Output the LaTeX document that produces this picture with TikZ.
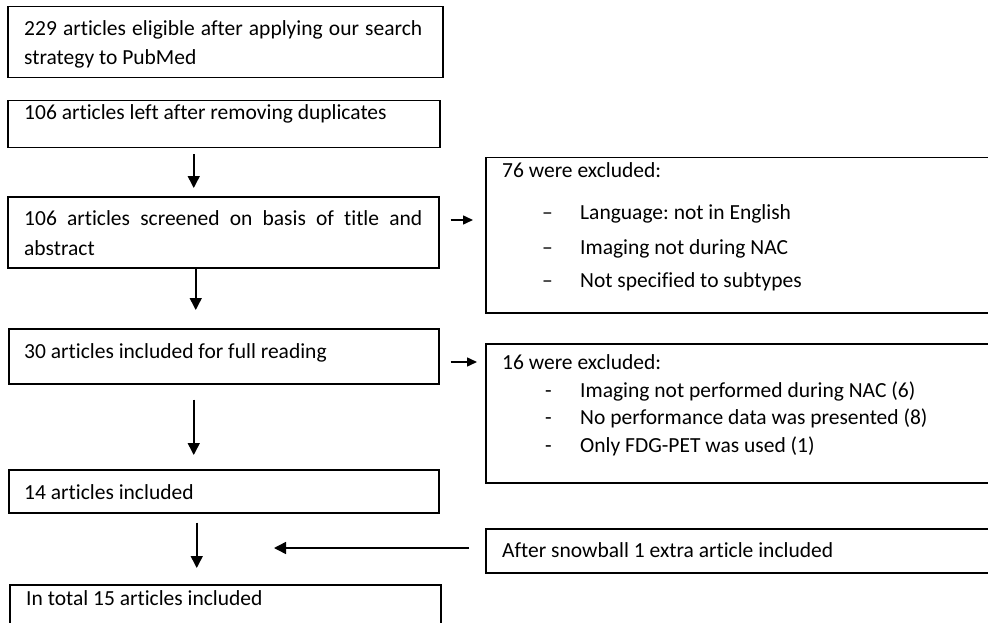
\documentclass[tikz,border=0pt]{standalone}
\usepackage{fontspec}
\setmainfont[Ligatures=NoCommon]{Carlito}
\frenchspacing
\usetikzlibrary{arrows.meta}
\begin{document}
\begin{tikzpicture}[x=1pt,y=-1pt,
  box/.style={draw, line width=1.5pt, inner sep=0pt, anchor=north west},
  txt/.style={inner sep=0pt, anchor=base west, font=\fontsize{21.5}{29}\selectfont, align=left},
  arr/.style={-{Triangle[length=12pt,width=12pt]}, line width=1.5pt},
  sarr/.style={-{Triangle[length=10pt,width=9pt]}, line width=1.5pt}]
\useasboundingbox (0,0) rectangle (988,623);
\clip (0,0) rectangle (988,623);

% main column
\node[box, minimum width=435pt, minimum height=71pt] (b1) at (7,6) {};
\node[box, minimum width=432pt, minimum height=47pt] (b2) at (7,100) {};
\node[box, minimum width=431pt, minimum height=71pt] (b3) at (7,196) {};
\node[box, minimum width=430pt, minimum height=55pt] (b4) at (8,328) {};
\node[box, minimum width=430pt, minimum height=43pt] (b5) at (8,469) {};
\node[box, minimum width=431pt, minimum height=60pt] (b6) at (9,584) {};

% side column (runs off the right edge)
\node[box, minimum width=520pt, minimum height=155pt] (bA) at (485,157) {};
\node[box, minimum width=520pt, minimum height=139pt] (bB) at (485,343) {};
\node[box, minimum width=520pt, minimum height=44pt] (bS) at (485,528) {};

% texts of the main column (base anchor sits on the last line)
\node[txt] (t1) at (24,65) {\makebox[398pt][s]{229 articles eligible after applying our search}\\strategy to PubMed};
\node[txt] (t2) at (24,120) {106 articles left after removing duplicates};
\node[txt, font=\fontsize{21.5}{30}\selectfont] (t3) at (24,255) {\makebox[398pt][s]{106 articles screened on basis of title and}\\abstract};
\node[txt] (t4) at (24,358) {30 articles included for full reading};
\node[txt] (t5) at (24,499) {14 articles included};
\node[txt] (t6) at (26,605) {In total 15 articles included};

% exclusions after screening
\node[txt] (tA0) at (502,177) {76 were excluded:};
\node[txt] (tA1d) at (542,219) {–};
\node[txt] (tA1) at (580,219) {Language: not in English};
\node[txt] (tA2d) at (542,254) {–};
\node[txt] (tA2) at (580,254) {Imaging not during NAC};
\node[txt] (tA3d) at (542,287) {–};
\node[txt] (tA3) at (580,287) {Not specified to subtypes};

% exclusions after full reading
\node[txt] (tB0) at (502,369) {16 were excluded:};
\node[txt] (tB1d) at (545,397) {-};
\node[txt] (tB1) at (580,397) {Imaging not performed during NAC (6)};
\node[txt] (tB2d) at (545,424) {-};
\node[txt] (tB2) at (580,424) {No performance data was presented (8)};
\node[txt] (tB3d) at (545,452) {-};
\node[txt] (tB3) at (580,452) {Only FDG-PET was used (1)};

\node[txt] (tS) at (502,557) {After snowball 1 extra article included};

% vertical flow
\coordinate (c1) at ([xshift=-30pt]b2.south);
\draw[arr, shorten <=6pt, shorten >=8pt] (c1) -- (c1 |- b3.north);
\coordinate (c2) at ([xshift=-27.5pt]b3.south);
\draw[arr, shorten >=18pt] (c2) -- (c2 |- b4.north);
\coordinate (c3) at ([xshift=-30pt]b4.south);
\draw[arr, shorten <=15pt, shorten >=14pt] (c3) -- (c3 |- b5.north);
\coordinate (c4) at ([xshift=-27pt]b5.south);
\draw[arr, shorten <=9pt, shorten >=16pt] (c4) -- (c4 |- b6.north);

% side arrows
\coordinate (c5) at ([yshift=-24pt]b3.north east);
\draw[sarr, shorten <=11pt, shorten >=12pt] (c5) -- (c5 -| bA.west);
\coordinate (c6) at ([yshift=-34pt]b4.north east);
\draw[sarr, shorten <=11pt, shorten >=8pt] (c6) -- (c6 -| bB.west);
\coordinate (sj) at (274,548);
\draw[arr, shorten <=16pt] (sj -| bS.west) -- (sj);
\end{tikzpicture}
\end{document}
